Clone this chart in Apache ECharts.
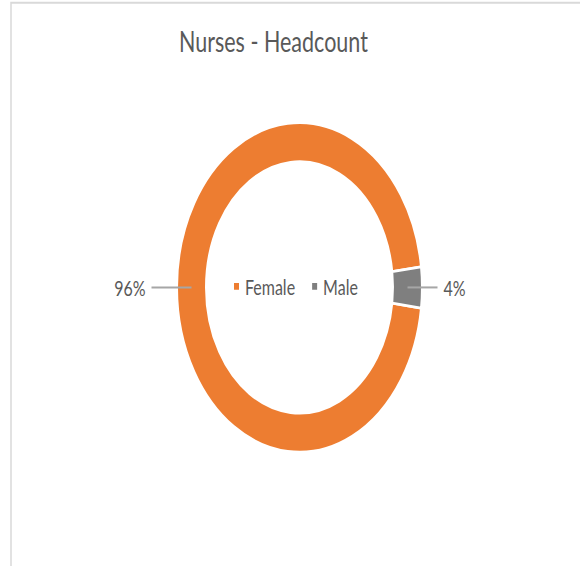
<!DOCTYPE html>
<html>
<head>
<meta charset="utf-8">
<script src="https://cdn.jsdelivr.net/npm/echarts@6/dist/echarts.min.js"></script>
<style>
  html, body { margin: 0; padding: 0; background: #fff; }
  #wrap { width: 580px; height: 566px; overflow: hidden; }
  /* the original picture is stretched vertically, so draw flat and stretch */
  #chart { width: 580px; height: 421px; transform: scaleY(1.3444); transform-origin: 0 0; }
</style>
</head>
<body>
<div id="wrap"><div id="chart"></div></div>
<script>
const categories = ['Female', 'Male']
const shares = [96, 4]
const colors = ['#ED7D31', '#7F7F7F']
const lineLengths = [40, 30]

const chart = echarts.init(document.getElementById('chart'), null, { renderer: 'svg' })

const ringData = categories.map((name, i) => ({
  name: name,
  value: shares[i],
  itemStyle: { color: colors[i] }
}))

// invisible pie at the middle of the ring, only for the labels and leader lines
const labelData = categories.map((name, i) => ({
  name: name,
  value: shares[i],
  itemStyle: { color: 'transparent' },
  labelLine: { length: lineLengths[i], length2: 0 }
}))

const option = {
  animation: false,
  title: {
    text: 'Nurses - Headcount',
    left: 174,
    top: 14,
    textStyle: {
      fontFamily: 'Lato',
      fontSize: 21.5,
      fontWeight: 'normal',
      color: '#595959'
    }
  },
  legend: {
    data: categories,
    left: 227,
    top: 200,
    icon: 'rect',
    itemWidth: 7,
    itemHeight: 7,
    itemGap: 15,
    textStyle: {
      fontFamily: 'Lato',
      fontSize: 16,
      color: '#595959'
    }
  },
  graphic: [
    {
      type: 'rect',
      shape: { x: 11, y: 2, width: 700, height: 600 },
      style: { fill: 'none', stroke: '#d9d9d9', lineWidth: 1.5 },
      silent: true
    }
  ],
  series: [
    {
      type: 'pie',
      center: [299.5, 213.8],
      radius: [93.5, 122.5],
      startAngle: -7.2,
      avoidLabelOverlap: false,
      label: { show: false },
      labelLine: { show: false },
      itemStyle: { borderColor: '#fff', borderWidth: 2 },
      emphasis: { disabled: true },
      data: ringData
    },
    {
      type: 'pie',
      center: [299.5, 213.8],
      radius: [0, 108],
      startAngle: -7.2,
      silent: true,
      z: 3,
      label: {
        show: true,
        position: 'outside',
        formatter: p => p.value + '%',
        fontFamily: 'Lato',
        fontSize: 16,
        color: '#595959',
        distanceToLabelLine: 6
      },
      labelLine: {
        show: true,
        lineStyle: { color: '#a6a6a6', width: 1.5 }
      },
      data: labelData
    }
  ]
}

chart.setOption(option)
</script>
</body>
</html>
